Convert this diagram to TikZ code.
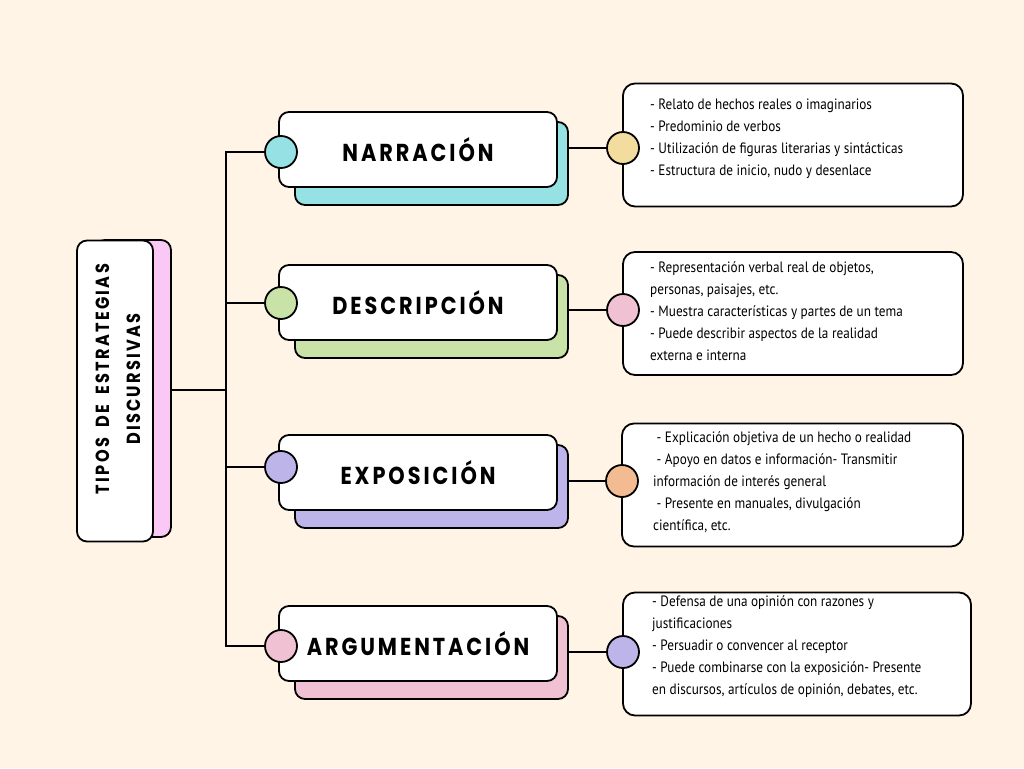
\documentclass[tikz,border=0pt]{standalone}
\usepackage{fontspec}
\setmainfont{PT Sans}
\newfontfamily\notefont[FakeStretch=0.88]{PT Sans}
\newfontfamily\headfont[FakeStretch=0.85,LetterSpace=12,WordSpace=1.8]{Poppins}
\usetikzlibrary{positioning}
\definecolor{paper}{HTML}{FFF4E6}
\definecolor{cyanish}{HTML}{95E1E3}
\definecolor{greenish}{HTML}{C9E2A7}
\definecolor{lavender}{HTML}{BDB5EA}
\definecolor{rosy}{HTML}{EFC1D3}
\definecolor{sand}{HTML}{F2DD9E}
\definecolor{peach}{HTML}{F3BB91}
\definecolor{orchid}{HTML}{F9C8F4}
\tikzset{
    front/.style={
        rectangle,
        draw=black,
        line width=1.8pt,
        fill=white,
        rounded corners=10pt,
        minimum width=278pt,
        minimum height=75pt,
        inner sep=0pt,
    },
    backing/.style={
        rectangle,
        draw=black,
        line width=1.8pt,
        rounded corners=10pt,
        minimum width=273pt,
        minimum height=83pt,
    },
    dot/.style={
        circle,
        draw=black,
        line width=1.8pt,
        minimum size=32pt,
        inner sep=0pt,
    },
    infobox/.style={
        rectangle,
        draw=black,
        line width=1.8pt,
        fill=white,
        rounded corners=12pt,
        minimum height=123pt,
    },
    infotext/.style={
        anchor=north west,
        inner sep=0pt,
        align=left,
        font=\notefont\fontsize{15}{22}\selectfont,
    },
    heading/.style={
        font=\headfont\bfseries\fontsize{24.5}{28}\selectfont,
    },
    link/.style={
        draw,
        line width=1.8pt,
    },
}
\begin{document}
\begin{tikzpicture}[x=1pt,y=-1pt]
    \useasboundingbox (0,0) rectangle (1024,768);
    \fill[paper] (0,0) rectangle (1024,768);

    % root
    \node [backing, fill=orchid, minimum width=76pt, minimum height=297pt] (tipos-sh) at (133,388.5) {};
    \node [front, minimum width=76pt, minimum height=301pt] (tipos) at (115,391) {};
    \node [heading, font=\headfont\bfseries\fontsize{19}{31}\selectfont, rotate=90, align=center] (tipos-txt) at (118,379) {TIPOS DE ESTRATEGIAS\\DISCURSIVAS};

    % branches
    \node [backing, fill=cyanish] (nar-sh) at (431.5,163.5) {};
    \node [front, heading] (nar) at (418,149.5) {NARRACIÓN};
    \node [dot, fill=cyanish] (nar-dot) at (281,152) {};

    \node [backing, fill=greenish] (des-sh) at (431.5,316.5) {};
    \node [front, heading] (des) at (418,302.5) {DESCRIPCIÓN};
    \node [dot, fill=greenish] (des-dot) at (281,303) {};

    \node [backing, fill=lavender] (exp-sh) at (431.5,486.5) {};
    \node [front, heading] (exp) at (418,472.5) {EXPOSICIÓN};
    \node [dot, fill=lavender] (exp-dot) at (281,467) {};

    \node [backing, fill=rosy] (arg-sh) at (431.5,657.5) {};
    \node [front, heading] (arg) at (418,643.5) {ARGUMENTACIÓN};
    \node [dot, fill=rosy] (arg-dot) at (281,646) {};

    % notes
    \node [infobox, minimum width=340pt] (nar-box) at (793,145) {};
    \node [infotext] (nar-txt) at (650,98.5) {- Relato de hechos reales o imaginarios\\- Predominio de verbos\\- Utilización de figuras literarias y sintácticas\\- Estructura de inicio, nudo y desenlace};
    \node [dot, fill=sand] (nar-rdot) at (623,148) {};

    \node [infobox, minimum width=340pt] (des-box) at (793,313.5) {};
    \node [infotext] (des-txt) at (650,261.5) {- Representación verbal real de objetos,\\personas, paisajes, etc.\\- Muestra características y partes de un tema\\- Puede describir aspectos de la realidad\\externa e interna};
    \node [dot, fill=rosy] (des-rdot) at (623,310) {};

    \node [infobox, minimum width=341pt] (exp-box) at (792.5,485) {};
    \node [infotext] (exp-txt) at (653,431.5) {\ - Explicación objetiva de un hecho o realidad\\\ - Apoyo en datos e información- Transmitir\\información de interés general\\\ - Presente en manuales, divulgación\\científica, etc.};
    \node [dot, fill=peach] (exp-rdot) at (622,481) {};

    \node [infobox, minimum width=348pt] (arg-box) at (797,654) {};
    \node [infotext] (arg-txt) at (652,595.5) {- Defensa de una opinión con razones y\\justificaciones\\- Persuadir o convencer al receptor\\- Puede combinarse con la exposición- Presente\\en discursos, artículos de opinión, debates, etc.};
    \node [dot, fill=lavender] (arg-rdot) at (623,652) {};

    % connectors
    \coordinate (trunk) at (226,390);
    \draw [link] (tipos-sh.east |- trunk) -- (trunk);
    \draw [link] (nar-dot.west) -| (trunk) |- (arg-dot.west);
    \draw [link] (trunk |- des-dot) -- (des-dot.west);
    \draw [link] (trunk |- exp-dot) -- (exp-dot.west);

    \draw [link] (nar-sh.east |- nar-rdot) -- (nar-rdot.west);
    \draw [link] (des-sh.east |- des-rdot) -- (des-rdot.west);
    \draw [link] (exp-sh.east |- exp-rdot) -- (exp-rdot.west);
    \draw [link] (arg-sh.east |- arg-rdot) -- (arg-rdot.west);
\end{tikzpicture}
\end{document}
